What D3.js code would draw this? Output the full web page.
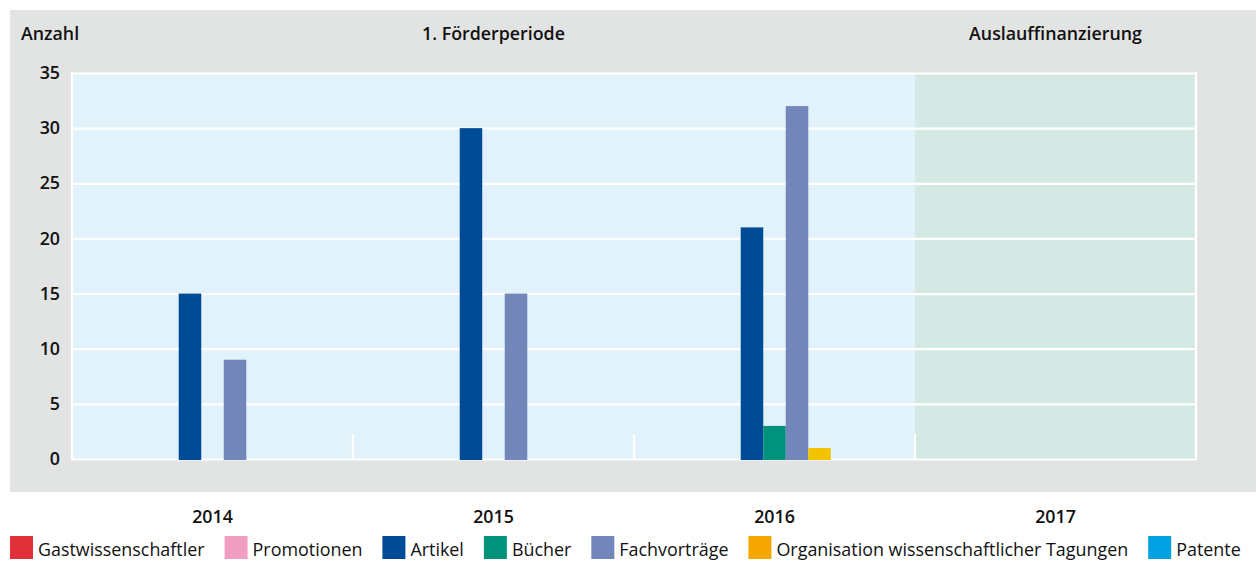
<!DOCTYPE html>
<html>
<head>
<meta charset="utf-8">
<script src="https://cdn.jsdelivr.net/npm/d3@7"></script>
<style>
  html, body { margin: 0; padding: 0; background: #ffffff; }
  svg { display: block; font-family: "Open Sans", "Noto Sans", sans-serif; }
</style>
</head>
<body>
<svg id="chart" width="1256" height="561"></svg>
<script>
// Jahre (Kategorien)
const years = ["2014", "2015", "2016", "2017"];
// Reihen
const series = ["Gastwissenschaftler", "Promotionen", "Artikel", "Bücher", "Fachvorträge", "Organisation wissenschaftlicher Tagungen", "Patente"];
// Werte je Reihe, in der Reihenfolge der Jahre
const gastwissenschaftler = [0, 0, 0, 0];
const promotionen         = [0, 0, 0, 0];
const artikel             = [15, 30, 21, 0];
const buecher             = [0, 0, 3, 0];
const fachvortraege       = [9, 15, 32, 0];
const tagungen            = [0, 0, 1, 0];
const patente             = [0, 0, 0, 0];
// Achsenbeschriftung
const yTicks = [0, 5, 10, 15, 20, 25, 30, 35];
const yTitle = "Anzahl";
// Förderphasen
const periods = ["1. Förderperiode", "Auslauffinanzierung"];
const periodYears = [["2014", "2015", "2016"], ["2017"]];

const legendColors = ["#e2303a", "#f09fc2", "#004b96", "#00917a", "#7286ba", "#f5a700", "#00a0e1"];
const barColors    = ["#e2303a", "#f09fc2", "#004b96", "#00917a", "#7286ba", "#f4c300", "#00a0e1"];
const periodFills  = ["#e1f2fa", "#d5e9e4"];

const valuesBySeries = [gastwissenschaftler, promotionen, artikel, buecher, fachvortraege, tagungen, patente];
const rows = [];
series.forEach((s, i) => years.forEach((y, j) => rows.push({ series: s, idx: i, year: y, value: valuesBySeries[i][j] })));

const svg = d3.select("#chart");
const plot = { left: 72, right: 1196, top: 73, bottom: 459 };
const boldSize = 17.8, boldWeight = 600, textColor = "#111";

// grauer Hintergrund
svg.append("rect").attr("x", 10).attr("y", 10).attr("width", 1246).attr("height", 482).attr("fill", "#e2e3e3");

const x = d3.scaleBand().domain(years).range([plot.left, plot.right]).padding(0);
const xs = d3.scaleBand().domain(series).range([0, x.bandwidth()]).paddingInner(0).paddingOuter(2.74);
const y = d3.scaleLinear().domain([0, 35]).range([plot.bottom, plot.top]);

// Hintergrundflächen der Förderphasen
periodYears.forEach((ys, i) => {
  const x0 = x(ys[0]), x1 = x(ys[ys.length - 1]) + x.bandwidth();
  svg.append("rect").attr("x", x0).attr("y", y(35)).attr("width", x1 - x0).attr("height", y(0) - y(35))
    .attr("fill", periodFills[i]);
});

// Gitterlinien und y-Beschriftung
const yAxis = d3.axisLeft(y).tickValues(yTicks).tickSizeInner(-(plot.right - plot.left)).tickSizeOuter(0).tickPadding(12);
const gy = svg.append("g").attr("transform", `translate(${plot.left},0)`).call(yAxis);
gy.select(".domain").remove();
gy.selectAll(".tick line").attr("stroke", "#ffffff").attr("stroke-width", 2.2);
gy.selectAll(".tick text").attr("fill", textColor).attr("font-size", boldSize).attr("font-weight", boldWeight);

// Rahmenlinien links und rechts
[plot.left, plot.right].forEach(px => {
  svg.append("line").attr("x1", px).attr("x2", px).attr("y1", y(35) - 1).attr("y2", y(0) + 1)
    .attr("stroke", "#ffffff").attr("stroke-width", 2.2);
});

// kurze Trennstriche zwischen den Jahren
years.slice(1).forEach(yr => {
  svg.append("line").attr("x1", x(yr)).attr("x2", x(yr)).attr("y1", y(0) - 25).attr("y2", y(0))
    .attr("stroke", "#ffffff").attr("stroke-width", 2.2);
});

// Balken
svg.append("g").selectAll("rect").data(rows.filter(d => d.value > 0)).join("rect")
  .attr("x", d => x(d.year) + xs(d.series))
  .attr("y", d => y(d.value))
  .attr("width", xs.bandwidth())
  .attr("height", d => y(0) - y(d.value) + 1)
  .attr("fill", d => barColors[d.idx]);

// x-Beschriftung
const xAxis = d3.axisBottom(x).tickSize(0).tickPadding(51);
const gx = svg.append("g").attr("transform", `translate(0,${plot.bottom})`).call(xAxis);
gx.select(".domain").remove();
gx.selectAll(".tick text").attr("fill", textColor).attr("font-size", boldSize).attr("font-weight", boldWeight);
svg.selectAll(".tick text").attr("font-family", "Open Sans, sans-serif");

// Kopfzeile
svg.append("text").attr("x", 21).attr("y", 40).attr("font-size", boldSize).attr("font-weight", boldWeight)
  .attr("fill", textColor).text(yTitle);
periods.forEach((p, i) => {
  const ys = periodYears[i];
  const cx = (x(ys[0]) + x(ys[ys.length - 1]) + x.bandwidth()) / 2;
  svg.append("text").attr("x", cx).attr("y", 40).attr("text-anchor", "middle")
    .attr("font-size", boldSize).attr("font-weight", boldWeight).attr("fill", textColor).text(p);
});

// Legende
const legend = svg.append("g").attr("transform", "translate(10,536)");
let lx = 0;
series.forEach((s, i) => {
  const g = legend.append("g").attr("transform", `translate(${lx},0)`);
  g.append("rect").attr("width", 23).attr("height", 23).attr("fill", legendColors[i]);
  const t = g.append("text").attr("x", 28).attr("y", 19.5).attr("font-size", 17.9).attr("fill", textColor).text(s);
  lx += 28 + t.node().getComputedTextLength() + 20;
});
</script>
</body>
</html>
